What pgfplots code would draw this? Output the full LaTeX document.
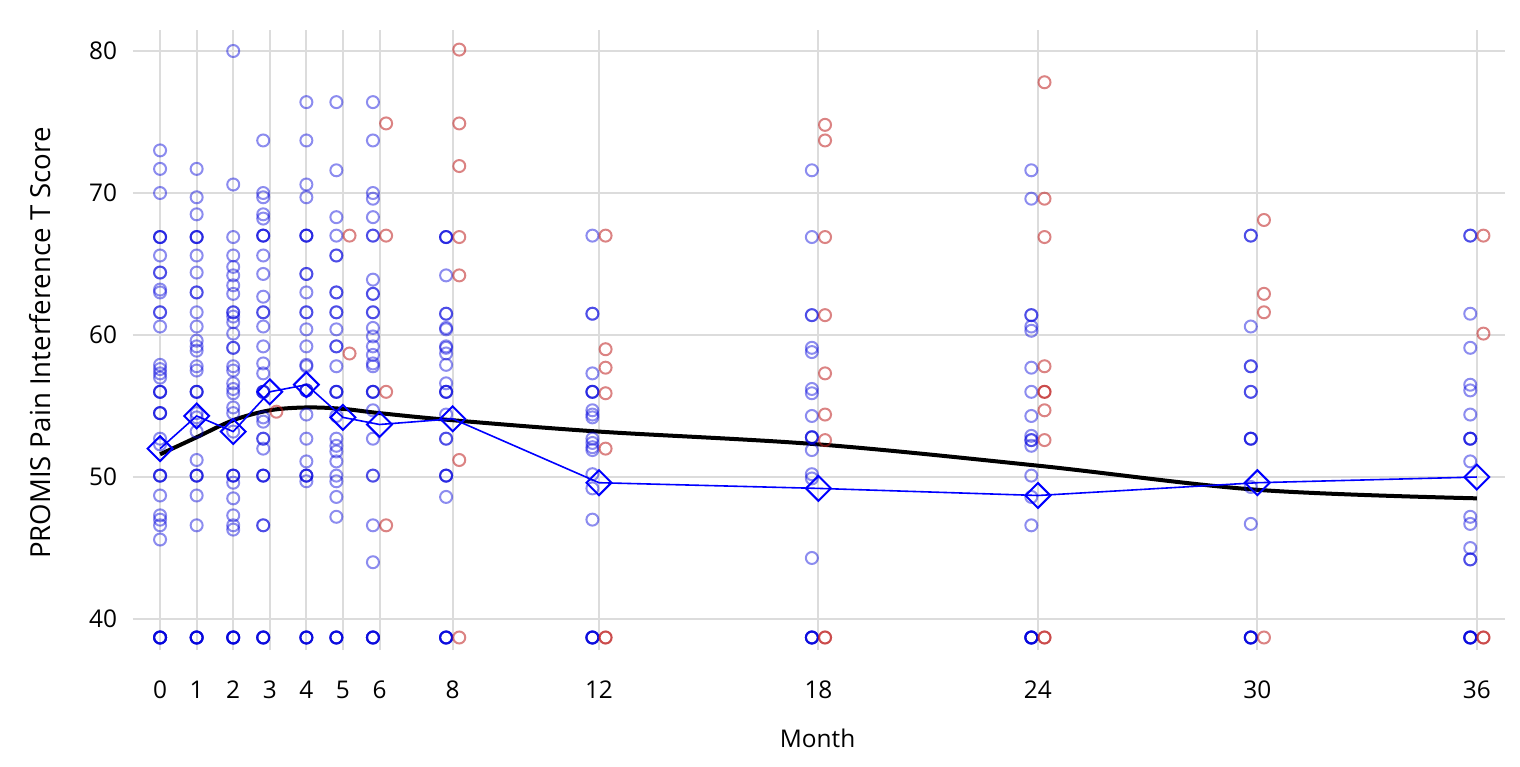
\documentclass[border=0pt]{standalone}
\usepackage{fontspec}
\setmainfont{Open Sans}
\usepackage{pgfplots}
\pgfplotsset{compat=1.18}

\definecolor{ptblue}{RGB}{0,0,220}
\definecolor{ptred}{RGB}{190,30,30}
\definecolor{gridgray}{RGB}{220,220,220}

% 1 px of the reference = 0.5pt
\begin{document}
\begin{tikzpicture}
\useasboundingbox (-66.5pt,-58pt) rectangle (693.5pt,325pt);
\begin{axis}[
    at={(0,0)}, anchor=south west,
    scale only axis,
    width=686pt, height=310pt,
    xmin=-0.74, xmax=36.77,
    ymin=37.82, ymax=81.48,
    xtick={0,1,2,3,4,5,6,8,12,18,24,30,36},
    ytick={40,50,60,70,80},
    grid=major,
    major grid style={draw=gridgray, line width=1pt},
    axis line style={draw=none},
    tick style={draw=none},
    /pgf/number format/assume math mode=true,
    font=\fontsize{12.2}{14}\selectfont,
    xticklabel style={yshift=-12pt},
    yticklabel style={xshift=-4.4pt},
    xlabel={Month},
    ylabel={PROMIS Pain Interference T Score},
    xlabel style={at={(axis description cs:0.499,-0.142)}, anchor=center},
    ylabel style={at={(axis description cs:-0.0678,0.495)}, anchor=center,
        font=\fontsize{13.8}{16}\selectfont},
    clip=false,
]

% individual scores, group 1 (blue)
\addplot[only marks, mark=o, mark size=3pt,
    mark options={draw=ptblue, draw opacity=0.45, line width=1pt}]
table[x=m, y=t] {
m t
0 73.0
0 71.7
0 70.0
0 66.9
0 66.9
0 66.9
0 65.6
0 64.4
0 64.4
0 63.2
0 63.0
0 61.6
0 61.6
0 60.6
0 57.9
0 57.6
0 57.3
0 57.0
0 56.0
0 56.0
0 56.0
0 54.5
0 54.5
0 54.5
0 52.7
0 52.3
0 50.1
0 50.1
0 50.1
0 48.7
0 47.3
0 47.0
0 46.6
0 45.6
0 38.7
0 38.7
0 38.7
0 38.7
0 38.7
0 38.7
1 71.7
1 69.7
1 68.5
1 66.9
1 66.9
1 66.9
1 65.6
1 64.4
1 63.0
1 63.0
1 61.6
1 60.6
1 59.6
1 59.2
1 58.9
1 57.8
1 57.5
1 56.0
1 56.0
1 56.0
1 54.5
1 54.2
1 53.2
1 51.2
1 50.1
1 50.1
1 50.1
1 48.7
1 46.6
1 38.7
1 38.7
1 38.7
1 38.7
1 38.7
1 38.7
2 80.0
2 70.6
2 66.9
2 65.6
2 64.8
2 64.2
2 63.5
2 62.9
2 61.6
2 61.6
2 61.3
2 60.9
2 60.1
2 59.1
2 59.1
2 57.8
2 57.5
2 56.6
2 56.2
2 55.9
2 54.9
2 54.5
2 53.2
2 50.1
2 50.1
2 50.1
2 49.6
2 48.5
2 47.3
2 46.6
2 46.3
2 38.7
2 38.7
2 38.7
2 38.7
2 38.7
2 38.7
2.82 73.7
2.82 70.0
2.82 69.7
2.82 68.5
2.82 68.2
2.82 67.0
2.82 67.0
2.82 67.0
2.82 65.6
2.82 64.3
2.82 62.7
2.82 61.6
2.82 61.6
2.82 60.6
2.82 59.2
2.82 58.0
2.82 57.3
2.82 56.0
2.82 56.0
2.82 56.0
2.82 54.2
2.82 53.9
2.82 52.7
2.82 52.7
2.82 52.0
2.82 50.1
2.82 50.1
2.82 50.1
2.82 46.6
2.82 46.6
2.82 38.7
2.82 38.7
2.82 38.7
2.82 38.7
2.82 38.7
4 76.4
4 73.7
4 70.6
4 69.7
4 67.0
4 67.0
4 67.0
4 64.3
4 64.3
4 63.0
4 61.6
4 61.6
4 60.4
4 59.2
4 57.9
4 57.8
4 56.1
4 56.1
4 56.1
4 54.4
4 52.7
4 51.1
4 50.1
4 50.1
4 50.1
4 49.7
4 38.7
4 38.7
4 38.7
4 38.7
4 38.7
4.82 76.4
4.82 71.6
4.82 68.3
4.82 67.0
4.82 65.6
4.82 65.6
4.82 63.0
4.82 63.0
4.82 61.6
4.82 61.6
4.82 60.4
4.82 59.2
4.82 59.2
4.82 57.8
4.82 56.0
4.82 56.0
4.82 56.0
4.82 54.3
4.82 52.7
4.82 52.2
4.82 51.8
4.82 51.1
4.82 50.1
4.82 49.7
4.82 48.6
4.82 47.2
4.82 38.7
4.82 38.7
4.82 38.7
4.82 38.7
4.82 38.7
5.82 76.4
5.82 73.7
5.82 70.0
5.82 69.6
5.82 68.3
5.82 67.0
5.82 67.0
5.82 63.9
5.82 62.9
5.82 62.9
5.82 61.6
5.82 61.6
5.82 60.5
5.82 59.9
5.82 59.2
5.82 58.6
5.82 58.0
5.82 57.8
5.82 56.0
5.82 56.0
5.82 56.0
5.82 54.7
5.82 52.7
5.82 50.1
5.82 50.1
5.82 46.6
5.82 44.0
5.82 38.7
5.82 38.7
5.82 38.7
5.82 38.7
5.82 38.7
7.82 66.9
7.82 66.9
7.82 66.9
7.82 64.2
7.82 61.5
7.82 61.5
7.82 60.5
7.82 60.4
7.82 59.2
7.82 59.1
7.82 58.7
7.82 57.9
7.82 56.6
7.82 56.0
7.82 56.0
7.82 56.0
7.82 54.4
7.82 52.7
7.82 52.7
7.82 50.1
7.82 50.1
7.82 50.1
7.82 48.6
7.82 38.7
7.82 38.7
7.82 38.7
7.82 38.7
7.82 38.7
11.82 67.0
11.82 61.5
11.82 61.5
11.82 57.3
11.82 56.0
11.82 56.0
11.82 56.0
11.82 54.7
11.82 54.4
11.82 54.2
11.82 52.7
11.82 52.4
11.82 52.1
11.82 51.9
11.82 50.2
11.82 49.2
11.82 47.0
11.82 38.7
11.82 38.7
11.82 38.7
11.82 38.7
11.82 38.7
17.82 71.6
17.82 66.9
17.82 61.4
17.82 61.4
17.82 59.1
17.82 58.8
17.82 56.2
17.82 55.9
17.82 54.3
17.82 52.8
17.82 52.8
17.82 52.8
17.82 51.9
17.82 50.2
17.82 49.9
17.82 44.3
17.82 38.7
17.82 38.7
17.82 38.7
17.82 38.7
17.82 38.7
23.82 71.6
23.82 69.6
23.82 61.4
23.82 61.4
23.82 60.6
23.82 60.3
23.82 57.7
23.82 56.0
23.82 54.3
23.82 52.9
23.82 52.6
23.82 52.6
23.82 52.2
23.82 50.1
23.82 48.6
23.82 46.6
23.82 38.7
23.82 38.7
23.82 38.7
23.82 38.7
23.82 38.7
23.82 38.7
29.82 67.0
29.82 67.0
29.82 60.6
29.82 57.8
29.82 57.8
29.82 56.0
29.82 56.0
29.82 52.7
29.82 52.7
29.82 52.7
29.82 49.3
29.82 46.7
29.82 38.7
29.82 38.7
29.82 38.7
29.82 38.7
29.82 38.7
35.82 67.0
35.82 67.0
35.82 61.5
35.82 59.1
35.82 56.5
35.82 56.1
35.82 54.4
35.82 52.7
35.82 52.7
35.82 52.7
35.82 51.1
35.82 47.2
35.82 46.7
35.82 45.0
35.82 44.2
35.82 44.2
35.82 38.7
35.82 38.7
35.82 38.7
35.82 38.7
35.82 38.7
};

% individual scores, group 2 (red)
\addplot[only marks, mark=o, mark size=3pt,
    mark options={draw=ptred, draw opacity=0.55, line width=1pt}]
table[x=m, y=t] {
m t
3.18 54.6
5.18 67.0
5.18 58.7
6.18 74.9
6.18 67.0
6.18 56.0
6.18 46.6
8.18 80.1
8.18 74.9
8.18 71.9
8.18 66.9
8.18 64.2
8.18 51.2
8.18 38.7
12.18 67.0
12.18 59.0
12.18 57.7
12.18 55.9
12.18 52.0
12.18 38.7
12.18 38.7
18.18 74.8
18.18 73.7
18.18 66.9
18.18 61.4
18.18 57.3
18.18 54.4
18.18 52.6
18.18 38.7
18.18 38.7
24.18 77.8
24.18 69.6
24.18 66.9
24.18 57.8
24.18 56.0
24.18 56.0
24.18 54.7
24.18 52.6
24.18 38.7
24.18 38.7
30.18 68.1
30.18 62.9
30.18 61.6
30.18 38.7
36.18 67.0
36.18 60.1
36.18 38.7
36.18 38.7
};

% smoothed trend
\addplot[black, line width=2pt, smooth, tension=0.55] coordinates {
(0,51.6) (1,52.8) (2,54.0) (3,54.7) (4,54.9) (5,54.8) (6,54.5)
(8,54.0) (12,53.2) (18,52.3) (24,50.8) (30,49.1) (36,48.5)
};

% monthly means
\addplot[draw=blue, line width=0.8pt, mark=square, mark size=4.4pt,
    mark options={rotate=45, draw=blue, line width=1pt, fill=none}] coordinates {
(0,52.0) (1,54.3) (2,53.2) (3,56.0) (4,56.5) (5,54.2) (6,53.7)
(8,54.1) (12,49.6) (18,49.2) (24,48.7) (30,49.6) (36,50.0)
};
\end{axis}
\end{tikzpicture}
\end{document}
